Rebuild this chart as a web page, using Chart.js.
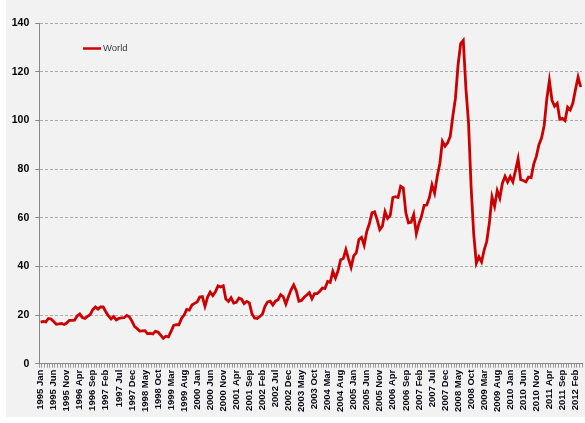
<!DOCTYPE html>
<html>
<head>
<meta charset="utf-8">
<script src="https://cdn.jsdelivr.net/npm/chart.js@4"></script>
<style>
  html, body { margin: 0; padding: 0; background: #ffffff; }
  #wrap { width: 585px; height: 423px; position: relative; }
</style>
</head>
<body>
<div id="wrap"><canvas id="c" width="585" height="423"></canvas></div>
<script>
// Monthly price, one array per year (1995 Jan .. 2012 Apr)
const p1995 = [17.1, 17.4, 17.2, 18.6, 18.4, 17.3, 16.2, 16.4, 16.5, 16.1, 16.7, 17.8];
const p1996 = [17.8, 17.9, 19.6, 20.4, 19.0, 18.6, 19.4, 20.2, 22.2, 23.3, 22.4, 23.3];
const p1997 = [23.3, 21.3, 19.6, 18.4, 19.4, 18.0, 18.6, 18.8, 18.9, 19.8, 19.3, 17.5];
const p1998 = [15.3, 14.4, 13.4, 13.5, 13.6, 12.3, 12.5, 12.2, 13.3, 13.0, 11.7, 10.4];
const p1999 = [11.3, 11.0, 13.3, 15.7, 16.0, 16.0, 18.6, 20.0, 22.3, 22.0, 24.1, 24.8];
const p2000 = [25.4, 27.4, 27.6, 23.6, 27.4, 29.4, 28.0, 29.5, 32.0, 31.5, 32.0, 26.6];
const p2001 = [25.6, 27.1, 24.9, 25.2, 27.0, 26.5, 24.7, 25.6, 25.0, 20.5, 18.8, 18.6];
const p2002 = [19.4, 20.3, 23.6, 25.4, 25.7, 24.1, 25.7, 26.3, 28.4, 27.5, 24.5, 27.6];
const p2003 = [30.4, 32.4, 29.9, 25.7, 26.0, 27.3, 28.2, 29.2, 26.7, 28.8, 28.8, 29.8];
const p2004 = [31.1, 30.9, 33.8, 33.4, 37.9, 35.2, 38.2, 42.7, 43.2, 46.9, 43.1, 39.6];
const p2005 = [44.3, 45.6, 51.0, 51.9, 48.7, 54.3, 57.5, 62.0, 62.4, 59.1, 55.1, 56.5];
const p2006 = [62.5, 59.7, 60.9, 68.3, 68.6, 68.3, 72.9, 72.2, 61.9, 57.9, 58.1, 61.3];
const p2007 = [53.4, 57.6, 60.6, 65.1, 65.2, 68.2, 73.5, 70.1, 76.9, 82.2, 91.4, 89.4];
const p2008 = [90.8, 93.4, 101.8, 109.1, 122.8, 131.5, 132.8, 113.2, 99.1, 72.6, 53.2, 41.3];
const p2009 = [43.9, 41.8, 46.7, 50.3, 57.9, 68.6, 64.7, 71.1, 68.0, 74.2, 77.0, 74.7];
const p2010 = [76.9, 74.7, 79.3, 84.2, 75.6, 75.3, 74.7, 76.7, 76.5, 82.0, 85.2, 90.0];
const p2011 = [92.7, 97.9, 108.7, 116.3, 108.2, 105.8, 107.0, 100.5, 100.8, 99.9, 105.4, 104.3];
const p2012 = [107.1, 112.7, 117.8, 113.7];

const years = [1995, 1996, 1997, 1998, 1999, 2000, 2001, 2002, 2003, 2004, 2005, 2006, 2007, 2008, 2009, 2010, 2011, 2012];
const monthNames = ["Jan","Feb","Mar","Apr","May","Jun","Jul","Aug","Sep","Oct","Nov","Dec"];
const yearly = [p1995, p1996, p1997, p1998, p1999, p2000, p2001, p2002, p2003, p2004, p2005, p2006, p2007, p2008, p2009, p2010, p2011, p2012];
const yTicks = [0, 20, 40, 60, 80, 100, 120, 140];
const labelEvery = 5;

const labels = [], world = [];
yearly.forEach((arr, i) => arr.forEach((v, m) => { labels.push(years[i] + " " + monthNames[m]); world.push(v); }));

// grey panel behind the chart
const panel = {
  id: "panel",
  beforeDraw(chart) {
    const ctx = chart.ctx;
    ctx.save();
    ctx.fillStyle = "#f2f2f2";
    ctx.fillRect(6, 0, 579, 417);
    ctx.restore();
  }
};

// legend sitting inside the plot
const insideLegend = {
  id: "insideLegend",
  afterDraw(chart) {
    const ctx = chart.ctx;
    ctx.save();
    ctx.strokeStyle = "#cc0000";
    ctx.lineWidth = 2.5;
    ctx.beginPath(); ctx.moveTo(83, 48.5); ctx.lineTo(101, 48.5); ctx.stroke();
    ctx.fillStyle = "#404040";
    ctx.font = "9.5px 'Liberation Sans', Arial, sans-serif";
    ctx.textBaseline = "middle";
    ctx.fillText(chart.data.datasets[0].label, 103, 48.5);
    ctx.restore();
  }
};

new Chart(document.getElementById("c"), {
  type: "line",
  data: {
    labels,
    datasets: [{ label: "World", data: world, borderColor: "#cc0000", borderWidth: 2.8, pointRadius: 0, tension: 0, fill: false }]
  },
  options: {
    responsive: false,
    animation: false,
    layout: { padding: { left: 0, right: 3, top: 23, bottom: 0 } },
    plugins: { legend: { display: false }, tooltip: { enabled: false } },
    scales: {
      x: {
        type: "category",
        offset: true,
        grid: { drawOnChartArea: false, drawTicks: true, tickLength: 4, tickColor: "#9a9a9a", offset: true },
        border: { display: true, color: "#868686", width: 1 },
        ticks: {
          autoSkip: false, minRotation: 90, maxRotation: 90, padding: 2,
          color: "#0a0a14",
          font: { family: "'Liberation Sans', Arial, sans-serif", size: 9.5, weight: "bold" },
          callback: (v, i) => (i % labelEvery === 0 ? labels[i] : "")
        },
        afterFit: s => { s.height = 59.3; s.paddingLeft = 0; s.paddingRight = 0; }
      },
      y: {
        min: 0, max: 140,
        afterBuildTicks: s => { s.ticks = yTicks.map(v => ({ value: v })); },
        grid: { color: "#ababab", lineWidth: 1, tickLength: 4, tickColor: "#868686" },
        border: { display: true, color: "#868686", width: 1, dash: [3, 2] },
        ticks: {
          padding: 6, color: "#000000",
          font: { family: "'Liberation Sans', Arial, sans-serif", size: 10.5, weight: "bold" }
        },
        afterFit: s => { s.width = 39.3; }
      }
    }
  },
  plugins: [panel, insideLegend]
});
</script>
</body>
</html>
